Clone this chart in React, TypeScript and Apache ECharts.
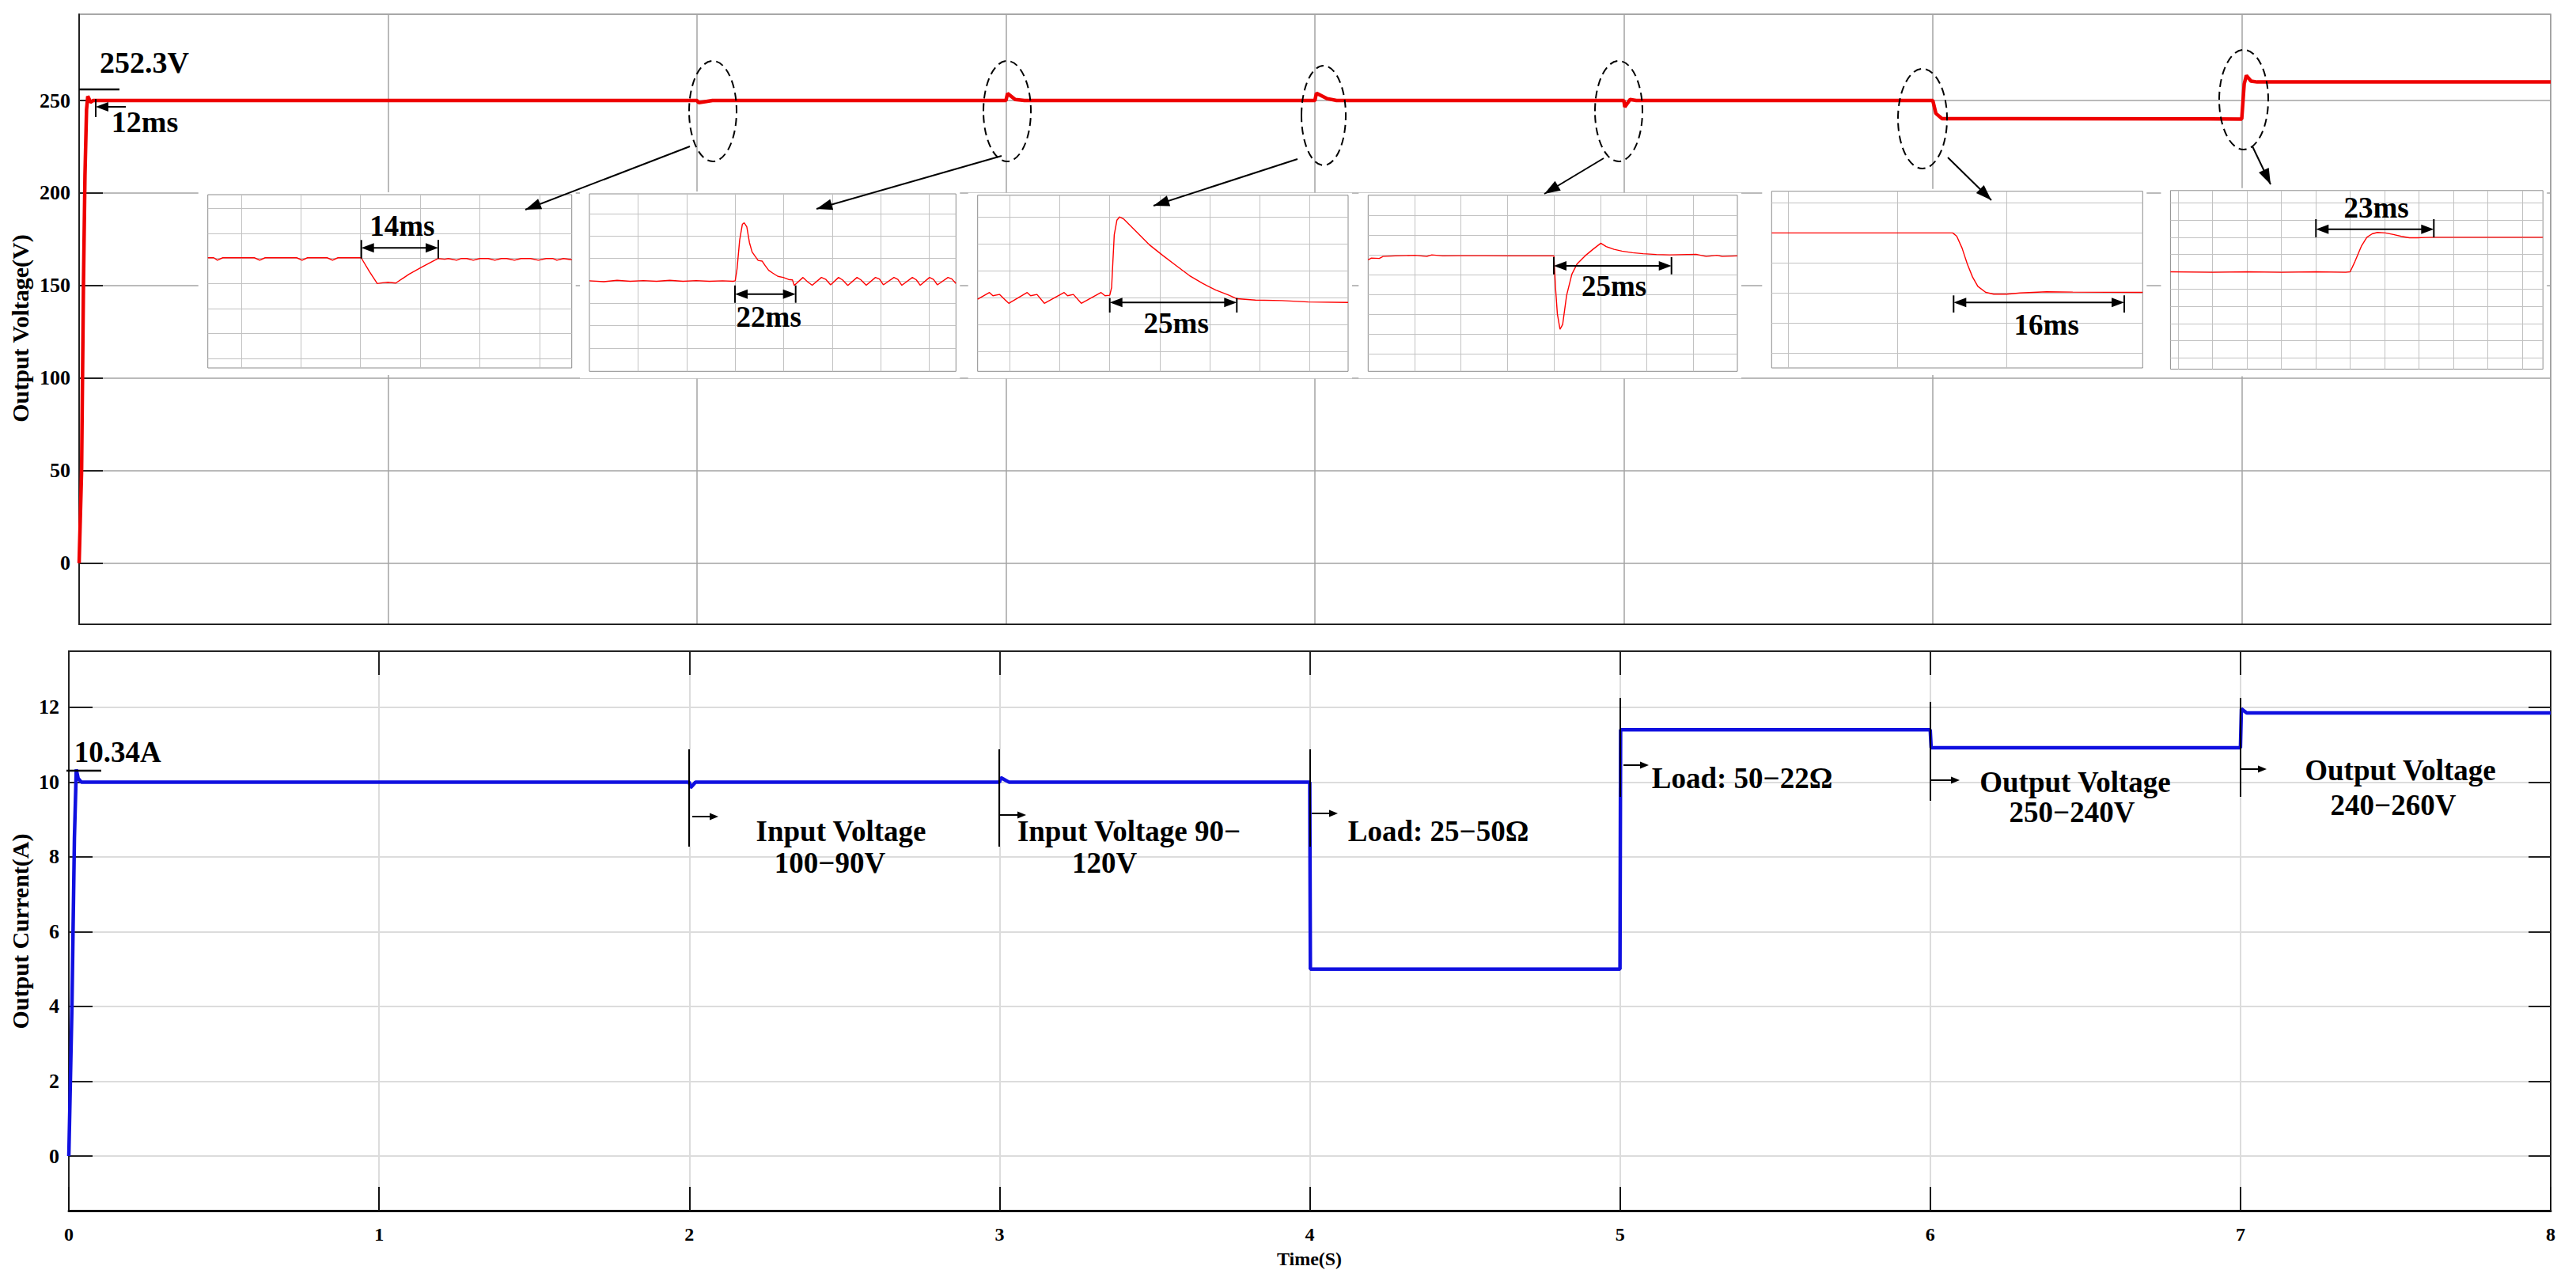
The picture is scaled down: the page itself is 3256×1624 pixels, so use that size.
import React, { useEffect, useRef } from 'react';
import * as echarts from 'echarts';

const SERIF = "'Liberation Serif', 'Times New Roman', Times, serif";

// ---------------- main data ----------------
const timeTicks = [0, 1, 2, 3, 4, 5, 6, 7, 8];
const voltageTicks = [0, 50, 100, 150, 200, 250];
const currentTicks = [0, 2, 4, 6, 8, 10, 12];

const outputVoltage: [number, number][] = [
  [0, 0], [0.008, 50], [0.014, 150], [0.019, 210], [0.024, 245], [0.028, 252.3], [0.032, 251], [0.036, 249], [0.045, 250],
  [2.0, 250], [2.005, 248.8], [2.03, 249.5], [2.05, 250],
  [3.0, 250], [3.005, 253.8], [3.03, 250.5], [3.06, 250],
  [4.0, 250], [4.005, 254], [4.04, 251], [4.07, 250],
  [5.0, 250], [5.003, 246.5], [5.02, 250.5], [5.04, 250],
  [6.0, 250], [6.01, 243], [6.03, 240.2],
  [7.0, 240], [7.008, 259], [7.015, 263.5], [7.03, 260.5], [7.05, 260], [8.0, 260],
];

const outputCurrent: [number, number][] = [
  [0, 0], [0.01, 4], [0.018, 8.5], [0.024, 10.34], [0.03, 10.1], [0.04, 10],
  [2.0, 10], [2.004, 9.85], [2.02, 10],
  [3.0, 10], [3.004, 10.12], [3.03, 10],
  [4.0, 10], [4.002, 5.0], [5.0, 5.0], [5.002, 11.4], [6.0, 11.4], [6.003, 10.92], [7.0, 10.92],
  [7.003, 11.96], [7.02, 11.85], [8.0, 11.85],
];

// ---------------- inset waveforms (event at x = 0) ----------------
const inset1Wave: [number, number][] = [
  [-25.6, 0.03], [-24.6, 0.03], [-24.0, -0.07], [-23.1, 0.03], [-17.8, 0.03], [-16.9, -0.07], [-16.0, 0.03],
  [-10.7, 0.03], [-9.8, -0.07], [-8.9, 0.03], [-5.6, 0.03], [-4.7, -0.07], [-3.8, 0.03], [0.1, 0.03],
  [1.5, -0.53], [2.8, -1.0], [3.7, -0.97], [4.6, -0.95], [5.9, -0.98], [8.1, -0.63], [10.3, -0.34], [13.0, 0],
  [14.1, -0.03], [14.7, 0], [16.1, -0.07], [16.9, 0], [17.8, 0], [18.9, -0.07], [20.0, 0], [21.4, 0], [22.5, -0.07],
  [23.6, 0], [24.5, 0], [25.8, -0.07], [26.9, 0], [28.5, 0], [29.8, -0.07], [31.1, 0], [32.2, 0], [32.9, -0.07],
  [34.0, 0], [35.4, -0.05],
];
const inset2Wave: [number, number][] = [
  [-30.05, 0], [-27.07, -0.04], [-24.35, 0.02], [-21.63, -0.02], [-18.91, 0.01], [-16.2, -0.02], [-13.48, 0.02],
  [-10.76, -0.02], [-8.04, 0.01], [-5.33, -0.02], [-2.61, 0], [-0.43, -0.02], [0, 0],
  [0.38, 0.53], [0.92, 1.82], [1.47, 2.52], [1.85, 2.59], [2.39, 2.41], [2.93, 1.71], [3.48, 1.29], [4.02, 1.12],
  [4.73, 0.91], [5.54, 0.88], [6.2, 0.67], [6.9, 0.47], [7.7, 0.35], [8.8, 0.2], [9.9, 0.15], [11.0, 0.06],
  [11.8, 0.04], [12.17, -0.21],
  [13.97, 0.15], [14.89, -0.04], [15.87, -0.2], [17.77, 0.15], [18.7, 0.06], [19.67, -0.18], [21.3, 0.15],
  [22.12, 0.04], [23.21, -0.21], [25.11, 0.15], [25.92, 0.04], [27.01, -0.2], [28.91, 0.15], [29.73, 0.08],
  [30.54, -0.18], [32.72, 0.15], [33.53, 0.06], [34.35, -0.2], [36.52, 0.15], [37.34, 0.04], [38.15, -0.2],
  [40.05, 0.15], [40.87, 0.06], [41.68, -0.18], [43.86, 0.15], [44.67, 0.08], [45.49, -0.12],
];
const inset3Wave: [number, number][] = [
  [-26.5, -0.07], [-24.13, 0.18], [-23.44, 0.06], [-22.12, 0.11], [-20.26, -0.22], [-16.56, 0.18], [-15.87, 0.06],
  [-14.6, 0.11], [-13.12, -0.22], [-9.15, 0.18], [-8.47, 0.06], [-7.3, 0.11], [-5.71, -0.22], [-1.75, 0.18],
  [-0.95, 0.06], [0, 0.08], [0.37, 0.37], [0.63, 1.35], [0.9, 2.33], [1.43, 2.87], [1.96, 2.99], [2.75, 2.92],
  [5.4, 2.43], [8.04, 1.94], [10.69, 1.55], [13.33, 1.18], [15.98, 0.81], [18.62, 0.52], [21.27, 0.27],
  [23.92, 0.08], [25.5, -0.05], [29.2, -0.1], [34.5, -0.12], [39.8, -0.17], [47.8, -0.19],
];
const inset4Wave: [number, number][] = [
  [-40, -0.24], [-39.3, -0.15], [-37.6, -0.17], [-36.8, -0.07], [-34.2, -0.04], [-29.9, -0.01], [-27.4, -0.07],
  [-26.3, 0.01], [-23.9, -0.04], [-20.6, -0.03], [-14.9, -0.03], [-9.2, -0.04], [0, -0.04], [0.34, -1.64],
  [0.74, -2.97], [1.31, -3.75], [1.88, -3.51], [2.73, -2.04], [3.86, -0.97], [5.0, -0.44], [6.7, -0.04],
  [8.4, 0.29], [10.1, 0.6], [11.25, 0.43], [12.95, 0.29], [14.66, 0.2], [16.93, 0.12], [19.2, 0.07],
  [22.05, 0.03], [24.9, 0.01], [30.6, 0.04], [32.8, -0.07], [35.1, -0.01], [36.25, -0.07], [39.5, -0.04],
];
const inset5Wave: [number, number][] = [
  [-33, 0], [0.14, 0], [0.87, -0.11], [1.84, -0.5], [2.8, -1.03], [3.77, -1.47], [4.73, -1.78], [6.18, -1.98],
  [7.63, -2.04], [10.05, -2.04], [12.46, -2.0], [17.3, -1.96], [22.1, -1.97], [34.9, -1.98],
];
const inset6Wave: [number, number][] = [
  [-52.2, 0], [-39.9, -0.03], [-29.8, 0], [-20, -0.03], [-9.9, 0], [-1.3, -0.03], [0, 0], [1.39, 0.59],
  [3.32, 1.51], [4.86, 2.0], [6.4, 2.2], [7.94, 2.28], [10.25, 2.25], [12.57, 2.16], [14.88, 2.05],
  [17.2, 1.97], [19.5, 1.97], [21.8, 1.99], [24.1, 2.0], [56, 2.0],
];
const insetWaves = [inset1Wave, inset2Wave, inset3Wave, inset4Wave, inset5Wave, inset6Wave];

const insetXRange: [number, number][] = [[-25.6, 35.4], [-30.05, 45.5], [-26.5, 47.8], [-40, 39.5], [-33, 34.9], [-52.2, 56]];
const insetYRange: [number, number][] = [[-4.37, 2.55], [-4.04, 3.88], [-2.75, 3.8], [-5.88, 3.03], [-4.5, 1.39], [-5.65, 4.71]];
const insetXGrid: number[][] = [
  [-20, -10, 0, 10, 20, 30],
  [-20, -10, 0, 10, 20, 30, 40],
  [-20, -10, 0, 10, 20, 30, 40],
  [-30, -20, -10, 0, 10, 20, 30],
  [-30, -10, 10],
  [-50, -40, -30, -20, -10, 0, 10, 20, 30, 40, 50],
];
const insetYGrid: number[][] = [
  [-4, -3, -2, -1, 0, 1, 2],
  [-3, -2, -1, 0, 1, 2, 3],
  [-2, -1, 0, 1, 2, 3],
  [-5, -4, -3, -2, -1, 0, 1, 2],
  [-4, -3, -2, -1, 0, 1],
  [-5, -4, -3, -2, -1, 0, 1, 2, 3, 4],
];
const insetLabels = ['14ms', '22ms', '25ms', '25ms', '16ms', '23ms'];

// bottom chart event notes
const noteTexts = ['Input Voltage', '100−90V', 'Input Voltage 90−', '120V', 'Load: 25−50Ω', 'Load: 50−22Ω',
  'Output Voltage', '250−240V', 'Output Voltage', '240−260V'];

// ---------------- layout (pixels) ----------------
const insetBoxes = [
  { left: 262.7, top: 246, width: 460, height: 219 },
  { left: 745, top: 245, width: 463.3, height: 224.3 },
  { left: 1235.7, top: 246.7, width: 468.3, height: 222.6 },
  { left: 1729.3, top: 246.7, width: 466.7, height: 222.6 },
  { left: 2239.3, top: 241.7, width: 469, height: 223.3 },
  { left: 2743.4, top: 240.8, width: 470.8, height: 225.8 },
];
const insetMarks = [
  { x1: 456.7, x2: 554, yTop: 303.3, yBot: 326.7, yArrow: 313.3, tx: 508.3, ty: 285 },
  { x1: 929, x2: 1005.7, yTop: 360.7, yBot: 382.7, yArrow: 371.7, tx: 971.7, ty: 400 },
  { x1: 1402.7, x2: 1563.3, yTop: 376.7, yBot: 395, yArrow: 382.3, tx: 1486.7, ty: 408.3 },
  { x1: 1964, x2: 2112.7, yTop: 325, yBot: 346.7, yArrow: 336, tx: 2040, ty: 361.7 },
  { x1: 2469.3, x2: 2685, yTop: 373.3, yBot: 395, yArrow: 382.3, tx: 2586.7, ty: 410 },
  { x1: 2927.3, x2: 3076.3, yTop: 277, yBot: 299.9, yArrow: 289.8, tx: 3003.5, ty: 262 },
];
const ellipses = [
  [901, 140.5, 30, 63.5], [1273, 140.5, 30, 63.5], [1673, 146, 28, 63], [2046, 140.5, 30, 63.5],
  [2430, 150, 31, 63], [2836, 126, 31, 63],
];
const pointers = [
  [872, 185, 664, 265], [1266, 197, 1032, 264], [1640, 201, 1458, 260], [2027, 200, 1952, 245],
  [2462, 199, 2517, 253], [2847, 185, 2870, 233],
];
const bottomMarkers = [
  [871, 947, 1070, 875, 908, 1032], [1263, 947, 1070, 1264, 1297, 1030], [1656, 947, 1070, 1658, 1691, 1028],
  [2048, 882, 1007, 2052, 2084, 967], [2440, 887, 1012, 2441, 2477, 986], [2832, 882, 1007, 2833, 2865, 972],
];
const notePos = [
  [1063, 1050], [1049, 1090], [1427, 1050], [1396, 1090], [1818, 1050], [2202, 983],
  [2623, 988], [2619, 1026], [3034, 973], [3025, 1017],
];

function buildGraphic() {
  const g: any[] = [];
  const text = (t: string, x: number, y: number, size = 37, rotation = 0) =>
    g.push({
      type: 'text', x, y, rotation, z: 10,
      style: { text: t, fontFamily: SERIF, fontWeight: 'bold', fontSize: size, fill: '#000', align: 'center', verticalAlign: 'middle' },
    });
  const line = (x1: number, y1: number, x2: number, y2: number, w = 2) =>
    g.push({ type: 'line', z: 10, shape: { x1, y1, x2, y2 }, style: { stroke: '#000', lineWidth: w } });
  const head = (x1: number, y1: number, x2: number, y2: number, len: number, half: number) => {
    const a = Math.atan2(y2 - y1, x2 - x1);
    const bx = x2 - len * Math.cos(a), by = y2 - len * Math.sin(a);
    const px = -Math.sin(a) * half, py = Math.cos(a) * half;
    g.push({ type: 'polygon', z: 10, shape: { points: [[x2, y2], [bx + px, by + py], [bx - px, by - py]] }, style: { fill: '#000' } });
  };

  // white backings for the inset pictures
  insetBoxes.forEach((b) =>
    g.push({ type: 'rect', z: 1, shape: { x: b.left - 12, y: b.top - 3, width: b.width + 17, height: b.height + 12 }, style: { fill: '#fff' } })
  );

  // inset measurements
  insetMarks.forEach((m, i) => {
    line(m.x1, m.yTop, m.x1, m.yBot, 2);
    line(m.x2, m.yTop, m.x2, m.yBot, 2);
    line(m.x1 + 4, m.yArrow, m.x2 - 4, m.yArrow, 2);
    head(m.x2, m.yArrow, m.x1, m.yArrow, 16, 6);
    head(m.x1, m.yArrow, m.x2, m.yArrow, 16, 6);
    text(insetLabels[i], m.tx, m.ty, 37);
  });

  // dashed ellipses and pointer arrows
  ellipses.forEach(([cx, cy, rx, ry]) =>
    g.push({ type: 'ellipse', z: 10, shape: { cx, cy, rx, ry }, style: { fill: 'none', stroke: '#000', lineWidth: 2, lineDash: [10, 6] } })
  );
  pointers.forEach(([x1, y1, x2, y2]) => {
    line(x1, y1, x2, y2, 2);
    head(x1, y1, x2, y2, 20, 7);
  });

  // top chart start-up annotation
  text('252.3V', 182.5, 79, 38);
  line(100, 113, 151, 113, 2.5);
  text('12ms', 183, 154, 38);
  line(121, 125, 121, 148, 2);
  line(159, 135, 125, 135, 2);
  head(159, 135, 121, 135, 16, 6);

  // bottom chart start-up annotation
  text('10.34A', 148.7, 950, 37);
  line(84, 974, 128, 974, 2.5);

  // bottom event markers
  bottomMarkers.forEach(([x, y1, y2, ax1, ax2, ay]) => {
    line(x, y1, x, y2, 2);
    line(ax1, ay, ax2 - 4, ay, 2);
    head(ax1, ay, ax2, ay, 11, 4.5);
  });
  noteTexts.forEach((t, i) => text(t, notePos[i][0], notePos[i][1], 37));

  // axis names
  text('Output Voltage(V)', 25, 415, 30, Math.PI / 2);
  text('Output Current(A)', 25, 1177, 30, Math.PI / 2);
  text('Time(S)', 1655, 1591, 24);
  return g;
}

function buildOption() {
  const labelStyle = { fontFamily: SERIF, fontWeight: 'bold', color: '#000' };
  const grids: any[] = [
    { left: 100, top: 18, width: 3124, height: 771, show: true, borderColor: '#8a8a8a', borderWidth: 1.5 },
    { left: 87, top: 823, width: 3137, height: 707, show: true, borderColor: '#222', borderWidth: 2 },
    ...insetBoxes.map((b) => ({ ...b, show: true, backgroundColor: '#fff', borderColor: '#8c8c8c', borderWidth: 1, z: 3 })),
  ];
  const xAxis: any[] = [
    {
      type: 'value', gridIndex: 0, min: 0, max: 8, interval: 1,
      axisLine: { show: true, onZero: false, lineStyle: { color: '#222', width: 2 } },
      axisTick: { show: false }, axisLabel: { show: false },
      splitLine: { show: true, lineStyle: { color: '#a3a3a3', width: 1.5 } },
    },
    {
      type: 'value', gridIndex: 1, min: 0, max: 8, interval: 1,
      axisLine: { show: true, onZero: false, lineStyle: { color: '#111', width: 3 } },
      axisTick: { show: true, inside: true, length: 30, lineStyle: { color: '#111', width: 2 } },
      axisLabel: { ...labelStyle, fontSize: 24, margin: 18, customValues: timeTicks },
      splitLine: { show: true, lineStyle: { color: '#dcdcdc', width: 2 } },
    },
    {
      type: 'value', gridIndex: 1, position: 'top', min: 0, max: 8, interval: 1,
      axisLine: { show: true, onZero: false, lineStyle: { color: '#222', width: 2 } },
      axisTick: { show: true, inside: true, length: 30, lineStyle: { color: '#222', width: 2 } },
      axisLabel: { show: false }, splitLine: { show: false },
    },
    ...insetBoxes.map((_, i) => ({
      type: 'value', gridIndex: i + 2, min: insetXRange[i][0], max: insetXRange[i][1], z: 4,
      axisLine: { show: false, onZero: false }, axisLabel: { show: false },
      axisTick: { show: false, customValues: insetXGrid[i] },
      splitLine: { show: true, customValues: insetXGrid[i], lineStyle: { color: '#c2c2c2', width: 1 } },
    })),
  ];
  const yAxis: any[] = [
    {
      type: 'value', gridIndex: 0, min: -33, max: 296.6,
      axisLine: { show: true, onZero: false, lineStyle: { color: '#222', width: 2 } },
      axisTick: { show: true, inside: true, length: 30, customValues: voltageTicks, lineStyle: { color: '#222', width: 2 } },
      axisLabel: { ...labelStyle, fontSize: 26, margin: 11, customValues: voltageTicks },
      splitLine: { show: true, customValues: voltageTicks, lineStyle: { color: '#a3a3a3', width: 1.5 } },
    },
    {
      type: 'value', gridIndex: 1, min: -1.46, max: 13.5,
      axisLine: { show: true, onZero: false, lineStyle: { color: '#222', width: 2 } },
      axisTick: { show: true, inside: true, length: 30, customValues: currentTicks, lineStyle: { color: '#222', width: 2 } },
      axisLabel: { ...labelStyle, fontSize: 26, margin: 12, customValues: currentTicks },
      splitLine: { show: true, customValues: currentTicks, lineStyle: { color: '#dcdcdc', width: 2 } },
    },
    {
      type: 'value', gridIndex: 1, position: 'right', min: -1.46, max: 13.5,
      axisLine: { show: true, onZero: false, lineStyle: { color: '#222', width: 2 } },
      axisTick: { show: true, inside: true, length: 28, customValues: currentTicks, lineStyle: { color: '#222', width: 2 } },
      axisLabel: { show: false }, splitLine: { show: false },
    },
    ...insetBoxes.map((_, i) => ({
      type: 'value', gridIndex: i + 2, min: insetYRange[i][0], max: insetYRange[i][1], z: 4,
      axisLine: { show: false, onZero: false }, axisLabel: { show: false },
      axisTick: { show: false, customValues: insetYGrid[i] },
      splitLine: { show: true, customValues: insetYGrid[i], lineStyle: { color: '#c2c2c2', width: 1 } },
    })),
  ];
  const series: any[] = [
    {
      type: 'line', xAxisIndex: 0, yAxisIndex: 0, data: outputVoltage, showSymbol: false, symbol: 'none', z: 2,
      lineStyle: { color: '#ee0000', width: 4.5 },
    },
    {
      type: 'line', xAxisIndex: 1, yAxisIndex: 1, data: outputCurrent, showSymbol: false, symbol: 'none', z: 2,
      lineStyle: { color: '#1010e0', width: 4.5 },
    },
    ...insetWaves.map((w, i) => ({
      type: 'line', xAxisIndex: i + 3, yAxisIndex: i + 3, data: w, showSymbol: false, symbol: 'none', z: 5,
      lineStyle: { color: '#ff0000', width: 1.4 },
    })),
  ];
  return {
    animation: false,
    backgroundColor: '#ffffff',
    grid: grids,
    xAxis,
    yAxis,
    series,
    graphic: buildGraphic(),
  };
}

export default function App() {
  const ref = useRef<HTMLDivElement>(null);
  useEffect(() => {
    document.body.style.margin = '0';
    const chart = echarts.init(ref.current!, null, { renderer: 'svg' });
    chart.setOption(buildOption());
    return () => chart.dispose();
  }, []);
  return <div ref={ref} style={{ width: 3256, height: 1624, background: '#fff' }} />;
}
